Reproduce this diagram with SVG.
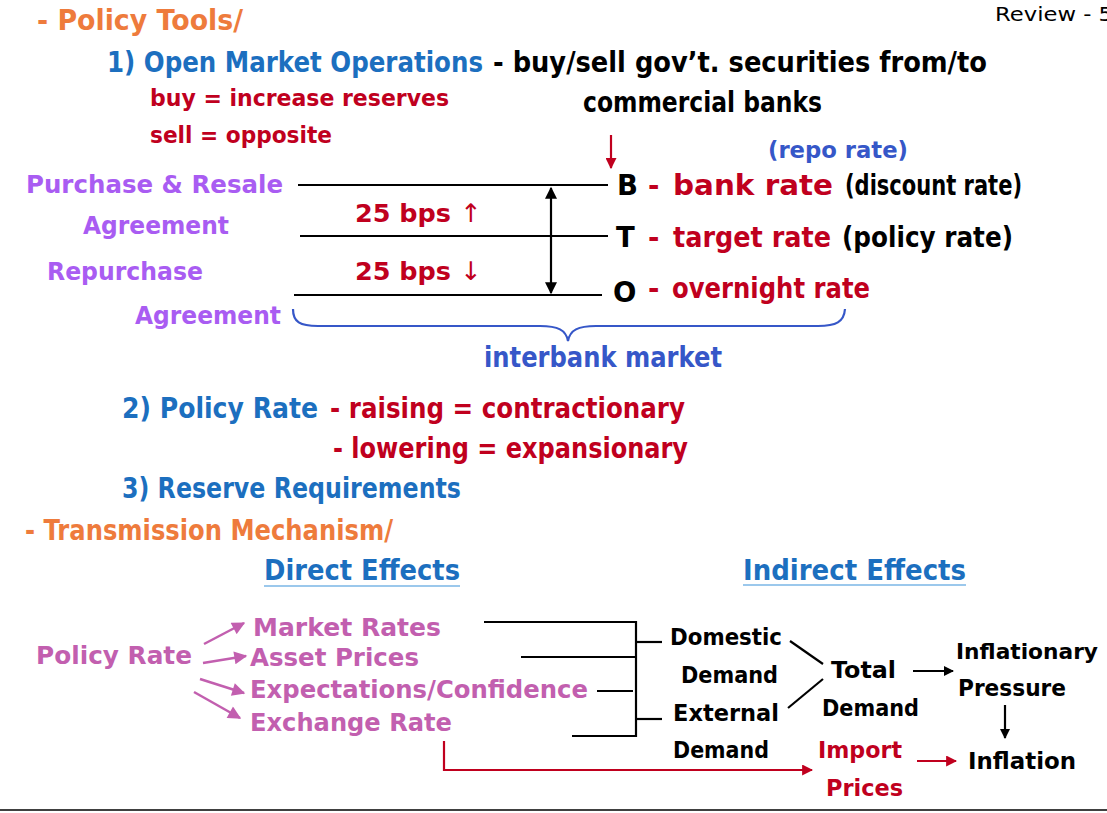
<svg xmlns="http://www.w3.org/2000/svg" width="1107" height="813" viewBox="0 0 1107 813">
<style>
text{font-family:"DejaVu Sans","Liberation Sans",sans-serif;font-weight:bold;}
.h{font-size:27.5px}
.m{font-size:25.5px}
.s{font-size:23.5px}
.or{fill:#EE7B3C}
.bl{fill:#1C6FBF}
.rd{fill:#C0001E}
.pu{fill:#A95CF2}
.b2{fill:#3657C8}
.mg{fill:#C25FAF}
.k{fill:#000}
.thin{font-weight:normal}
.ln{stroke:#000;stroke-width:2.2;fill:none}
.lnr{stroke:#C0001E;stroke-width:2.2;fill:none}
.lnm{stroke:#C25FAF;stroke-width:2.5;fill:none}
</style>
<defs>
<marker id="ak" viewBox="0 0 10 10" refX="9" refY="5" markerWidth="10" markerHeight="10" markerUnits="userSpaceOnUse" orient="auto-start-reverse"><path d="M0,0 L10,5 L0,10 z" fill="#000"/></marker>
<marker id="akl" viewBox="0 0 10 10" refX="9" refY="5" markerWidth="14" markerHeight="12" markerUnits="userSpaceOnUse" orient="auto-start-reverse"><path d="M0,0 L10,5 L0,10 z" fill="#000"/></marker>
<marker id="ar" viewBox="0 0 10 10" refX="9" refY="5" markerWidth="11" markerHeight="11" markerUnits="userSpaceOnUse" orient="auto"><path d="M0,0 L10,5 L0,10 z" fill="#C0001E"/></marker>
<marker id="am" viewBox="0 0 10 10" refX="9" refY="5" markerWidth="14" markerHeight="13" markerUnits="userSpaceOnUse" orient="auto"><path d="M0,0 L10,5 L0,10 z" fill="#C25FAF"/></marker>
</defs>
<rect width="1107" height="813" fill="#fff"/>

<g id="header">
<text class="h or" x="37" y="30" textLength="206" lengthAdjust="spacingAndGlyphs">- Policy Tools/</text>
<text class="thin" x="995" y="21" font-size="20" textLength="118" lengthAdjust="spacingAndGlyphs">Review - 5</text>
</g>

<g id="omo">
<text class="h bl" x="107" y="72" textLength="376" lengthAdjust="spacingAndGlyphs">1) Open Market Operations</text>
<text class="h k" x="493" y="72" textLength="494" lengthAdjust="spacingAndGlyphs">- buy/sell gov’t. securities from/to</text>
<text class="h k" x="583" y="112" textLength="239" lengthAdjust="spacingAndGlyphs">commercial banks</text>
<text class="s rd" x="150" y="106" textLength="299" lengthAdjust="spacingAndGlyphs">buy = increase reserves</text>
<text class="s rd" x="150" y="143" textLength="182" lengthAdjust="spacingAndGlyphs">sell = opposite</text>
</g>

<g id="repo-label">
<text class="s b2" x="768" y="158" textLength="140" lengthAdjust="spacingAndGlyphs">(repo rate)</text>
</g>

<g id="agreements">
<text class="m pu" x="26" y="193" textLength="257" lengthAdjust="spacingAndGlyphs">Purchase &amp; Resale</text>
<text class="m pu" x="83" y="234" textLength="146" lengthAdjust="spacingAndGlyphs">Agreement</text>
<text class="m pu" x="47" y="280" textLength="156" lengthAdjust="spacingAndGlyphs">Repurchase</text>
<text class="m pu" x="135" y="324" textLength="146" lengthAdjust="spacingAndGlyphs">Agreement</text>
</g>

<g id="bps">
<text class="m rd" x="355" y="222">25 bps <tspan class="thin">↑</tspan></text>
<text class="m rd" x="355" y="280">25 bps <tspan class="thin">↓</tspan></text>
</g>

<g id="rate-b">
<text class="h k" x="617" y="195">B</text>
<text class="h rd" x="648" y="195">-</text>
<text class="h rd" x="673" y="195" textLength="160" lengthAdjust="spacingAndGlyphs">bank rate</text>
<text class="h k" x="845" y="195" textLength="177" lengthAdjust="spacingAndGlyphs">(discount rate)</text>
</g>
<g id="rate-t">
<text class="h k" x="616" y="247">T</text>
<text class="h rd" x="648" y="247">-</text>
<text class="h rd" x="673" y="247" textLength="158" lengthAdjust="spacingAndGlyphs">target rate</text>
<text class="h k" x="842" y="247" textLength="171" lengthAdjust="spacingAndGlyphs">(policy rate)</text>
</g>
<g id="rate-o">
<text class="h k" x="613" y="302">O</text>
<text class="h rd" x="648" y="298">-</text>
<text class="h rd" x="672" y="298" textLength="198" lengthAdjust="spacingAndGlyphs">overnight rate</text>
</g>

<g id="interbank">
<text class="h b2" x="484" y="367" textLength="238" lengthAdjust="spacingAndGlyphs">interbank market</text>
</g>

<g id="policy-rate">
<text class="h bl" x="122" y="418" textLength="196" lengthAdjust="spacingAndGlyphs">2) Policy Rate</text>
<text class="h rd" x="330" y="418" textLength="355" lengthAdjust="spacingAndGlyphs">- raising = contractionary</text>
<text class="h rd" x="333" y="458" textLength="355" lengthAdjust="spacingAndGlyphs">- lowering = expansionary</text>
</g>

<g id="reserve">
<text class="h bl" x="122" y="498" textLength="339" lengthAdjust="spacingAndGlyphs">3) Reserve Requirements</text>
</g>

<g id="transmission">
<text class="h or" x="25" y="540" textLength="368" lengthAdjust="spacingAndGlyphs">- Transmission Mechanism/</text>
</g>

<g id="direct-effects">
<text class="h bl" x="264" y="580" textLength="196" lengthAdjust="spacingAndGlyphs">Direct Effects</text>
<line x1="264" y1="586" x2="460" y2="586" stroke="#7AB6E6" stroke-width="1.5"/>
</g>
<g id="indirect-effects">
<text class="h bl" x="743" y="580" textLength="223" lengthAdjust="spacingAndGlyphs">Indirect Effects</text>
<line x1="743" y1="585" x2="966" y2="585" stroke="#7AB6E6" stroke-width="1.5"/>
</g>

<g id="policy-rate-src">
<text class="m mg" x="36" y="664" textLength="156" lengthAdjust="spacingAndGlyphs">Policy Rate</text>
</g>
<g id="market-rates"><text class="m mg" x="253" y="636" textLength="188" lengthAdjust="spacingAndGlyphs">Market Rates</text></g>
<g id="asset-prices"><text class="m mg" x="250" y="666" textLength="169" lengthAdjust="spacingAndGlyphs">Asset Prices</text></g>
<g id="expectations"><text class="m mg" x="250" y="698" textLength="338" lengthAdjust="spacingAndGlyphs">Expectations/Confidence</text></g>
<g id="exchange-rate"><text class="m mg" x="250" y="731" textLength="202" lengthAdjust="spacingAndGlyphs">Exchange Rate</text></g>

<g id="domestic-demand">
<text class="s k" x="670" y="645" textLength="112" lengthAdjust="spacingAndGlyphs">Domestic</text>
<text class="s k" x="681" y="683" textLength="97" lengthAdjust="spacingAndGlyphs">Demand</text>
</g>
<g id="external-demand">
<text class="s k" x="673" y="721" textLength="106" lengthAdjust="spacingAndGlyphs">External</text>
<text class="s k" x="673" y="758" textLength="96" lengthAdjust="spacingAndGlyphs">Demand</text>
</g>
<g id="total-demand">
<text class="s k" x="831" y="678" textLength="65" lengthAdjust="spacingAndGlyphs">Total</text>
<text class="s k" x="822" y="716" textLength="97" lengthAdjust="spacingAndGlyphs">Demand</text>
</g>
<g id="inflationary-pressure">
<text class="k" x="956" y="659" font-size="22" textLength="142" lengthAdjust="spacingAndGlyphs">Inflationary</text>
<text class="s k" x="958" y="696" textLength="108" lengthAdjust="spacingAndGlyphs">Pressure</text>
</g>
<g id="inflation">
<text class="s k" x="968" y="769" textLength="108" lengthAdjust="spacingAndGlyphs">Inflation</text>
</g>
<g id="import-prices">
<text class="s rd" x="818" y="758" textLength="84" lengthAdjust="spacingAndGlyphs">Import</text>
<text class="s rd" x="826" y="796" textLength="77" lengthAdjust="spacingAndGlyphs">Prices</text>
</g>

<g id="connectors">
<line class="ln" x1="298" y1="185" x2="608" y2="185"/>
<line class="ln" x1="300" y1="236" x2="608" y2="236"/>
<line class="ln" x1="294" y1="295" x2="602" y2="295"/>
<line class="ln" x1="551" y1="188" x2="551" y2="293" marker-start="url(#akl)" marker-end="url(#akl)"/>
<line class="lnr" x1="611" y1="135" x2="611" y2="168" marker-end="url(#ar)"/>
<path d="M293,309 C293,322 300,326 318,326 L540,326 C558,326 566,330 568,341 C570,330 578,326 596,326 L818,326 C836,326 844,322 845,309" fill="none" stroke="#3657C8" stroke-width="2.2"/>
<line class="lnm" x1="204" y1="644" x2="244" y2="623" marker-end="url(#am)"/>
<line class="lnm" x1="203" y1="663" x2="246" y2="656" marker-end="url(#am)"/>
<line class="lnm" x1="200" y1="679" x2="244" y2="693" marker-end="url(#am)"/>
<line class="lnm" x1="194" y1="692" x2="240" y2="718" marker-end="url(#am)"/>
<line class="ln" x1="484" y1="622" x2="636" y2="622"/>
<line class="ln" x1="521" y1="657" x2="636" y2="657"/>
<line class="ln" x1="597" y1="691" x2="633" y2="691"/>
<line class="ln" x1="572" y1="736" x2="636" y2="736"/>
<line class="ln" x1="636" y1="621" x2="636" y2="737"/>
<line class="ln" x1="636" y1="642" x2="662" y2="642"/>
<line class="ln" x1="636" y1="719" x2="662" y2="719"/>
<line class="ln" x1="790" y1="641" x2="823" y2="664"/>
<line class="ln" x1="823" y1="679" x2="788" y2="708"/>
<line class="ln" x1="913" y1="671" x2="953" y2="671" marker-end="url(#ak)"/>
<line class="ln" x1="1005" y1="705" x2="1005" y2="738" marker-end="url(#ak)"/>
<polyline class="lnr" points="444,741 444,770 812,770" marker-end="url(#ar)"/>
<line class="lnr" x1="917" y1="761" x2="956" y2="761" marker-end="url(#ar)"/>
</g>

<line x1="0" y1="810" x2="1107" y2="810" stroke="#000" stroke-width="1.5"/>
</svg>
